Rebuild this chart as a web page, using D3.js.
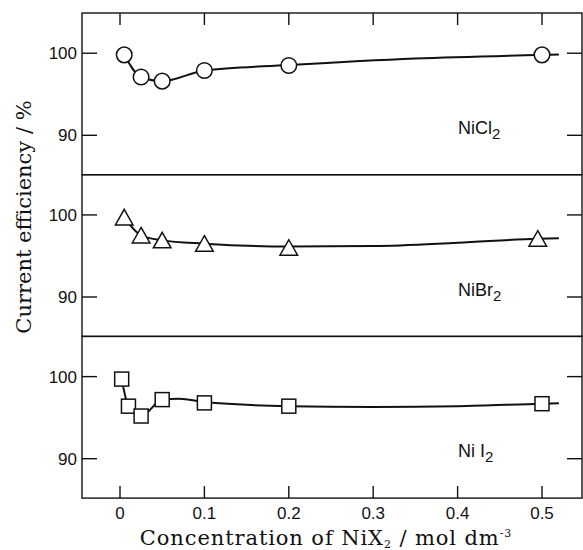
<!DOCTYPE html>
<html>
<head>
<meta charset="utf-8">
<script src="https://cdn.jsdelivr.net/npm/d3@7"></script>
<style>
  body { margin: 0; background: #fff; }
  svg { display: block; }
</style>
</head>
<body>
<div id="chart"></div>
<script>
// concentrations (mol dm-3) and current efficiency (%) per salt
const clX = [0.005, 0.025, 0.05, 0.1, 0.2, 0.5];
const clY = [99.8, 97.1, 96.6, 97.9, 98.5, 99.8];
const brX = [0.005, 0.025, 0.05, 0.1, 0.2, 0.495];
const brY = [99.7, 97.5, 96.9, 96.5, 96.0, 97.1];
const iX = [0.002, 0.01, 0.025, 0.05, 0.1, 0.2, 0.5];
const iY = [99.7, 96.4, 95.2, 97.2, 96.8, 96.4, 96.7];

// hand-drawn trend curves
const clFitX = [0.005, 0.025, 0.05, 0.1, 0.2, 0.35, 0.5, 0.52];
const clFitY = [99.8, 97.1, 96.6, 97.9, 98.55, 99.35, 99.8, 99.85];
const brFitX = [0.005, 0.025, 0.05, 0.1, 0.2, 0.3, 0.4, 0.495, 0.52];
const brFitY = [99.7, 97.5, 96.9, 96.5, 96.15, 96.2, 96.6, 97.1, 97.15];
const iFitX = [0.002, 0.01, 0.025, 0.05, 0.07, 0.1, 0.2, 0.3, 0.4, 0.5, 0.52];
const iFitY = [99.7, 96.4, 95.2, 97.2, 97.3, 96.9, 96.4, 96.3, 96.4, 96.7, 96.75];

const xTicks = [0, 0.1, 0.2, 0.3, 0.4, 0.5];
const yTicks = [90, 100];

const panels = [
    { name: "NiCl", sub: "2", shape: "circle", xs: clX, ys: clY, fx: clFitX, fy: clFitY },
    { name: "NiBr", sub: "2", shape: "triangle", xs: brX, ys: brY, fx: brFitX, fy: brFitY },
    { name: "Ni I", sub: "2", shape: "square", xs: iX, ys: iY, fx: iFitX, fy: iFitY }
];

const W = 583, H = 550;
const plotLeft = 82, plotRight = 582, plotTop = 13, panelH = 161.7;

const svg = d3.select("#chart").append("svg")
    .attr("width", W)
    .attr("height", H);

const x = d3.scaleLinear().domain([0, 0.5]).range([120, 542]);
const ink = "#111";
const tickFont = "'Liberation Sans', Arial, sans-serif";

const line = d3.line()
    .x(d => x(d[0]))
    .curve(d3.curveMonotoneX);

panels.forEach((p, i) => {
    const y0 = plotTop + i * panelH;
    const y = d3.scaleLinear().domain([85.2, 104.9]).range([y0 + panelH, y0]);
    const g = svg.append("g");

    // frame
    g.append("rect")
        .attr("x", plotLeft).attr("y", y0)
        .attr("width", plotRight - plotLeft).attr("height", panelH)
        .attr("fill", "none").attr("stroke", ink).attr("stroke-width", 1.4);

    // y ticks, both sides, inward
    yTicks.forEach(t => {
        g.append("line").attr("x1", plotLeft).attr("x2", plotLeft + 15)
            .attr("y1", y(t)).attr("y2", y(t))
            .attr("stroke", ink).attr("stroke-width", 1.4);
        g.append("line").attr("x1", plotRight - 15).attr("x2", plotRight)
            .attr("y1", y(t)).attr("y2", y(t))
            .attr("stroke", ink).attr("stroke-width", 1.4);
        g.append("text")
            .attr("x", plotLeft - 5).attr("y", y(t))
            .attr("dy", "0.36em")
            .attr("text-anchor", "end")
            .style("font-family", tickFont)
            .style("font-size", "17px")
            .attr("fill", ink)
            .text(t);
    });

    // trend curve
    const fit = p.fx.map((v, k) => [v, p.fy[k]]);
    g.append("path")
        .attr("d", line.y(d => y(d[1]))(fit))
        .attr("fill", "none")
        .attr("stroke", ink)
        .attr("stroke-width", 2);

    // markers
    const pts = p.xs.map((v, k) => [v, p.ys[k]]);
    const mg = g.append("g")
        .attr("fill", "#fff")
        .attr("stroke", ink)
        .attr("stroke-width", 1.5);
    const m = mg.selectAll(".m").data(pts).enter();
    if (p.shape === "circle") {
        m.append("circle")
            .attr("cx", d => x(d[0])).attr("cy", d => y(d[1]))
            .attr("r", 7.8);
    } else if (p.shape === "square") {
        m.append("rect")
            .attr("x", d => x(d[0]) - 7).attr("y", d => y(d[1]) - 7)
            .attr("width", 14).attr("height", 14);
    } else {
        m.append("path")
            .attr("transform", d => `translate(${x(d[0])},${y(d[1])})`)
            .attr("d", "M0,-8L8.8,7.5L-8.8,7.5Z");
    }

    // salt label
    const lab = g.append("text")
        .attr("x", 458).attr("y", y0 + 121)
        .style("font-family", tickFont)
        .style("font-size", "18px")
        .attr("fill", ink);
    lab.append("tspan").text(p.name);
    lab.append("tspan").attr("dy", 5).style("font-size", "15px").text(p.sub);
});

// x ticks: top of first panel (down) and bottom of last (up)
const yBottom = plotTop + 3 * panelH;
xTicks.forEach(t => {
    svg.append("line").attr("x1", x(t)).attr("x2", x(t))
        .attr("y1", plotTop).attr("y2", plotTop + 12)
        .attr("stroke", ink).attr("stroke-width", 1.4);
    svg.append("line").attr("x1", x(t)).attr("x2", x(t))
        .attr("y1", yBottom).attr("y2", yBottom - 12)
        .attr("stroke", ink).attr("stroke-width", 1.4);
    svg.append("text")
        .attr("x", x(t)).attr("y", yBottom + 21)
        .attr("text-anchor", "middle")
        .style("font-family", tickFont)
        .style("font-size", "17px")
        .attr("fill", ink)
        .text(t === 0 ? "0" : d3.format(".1f")(t));
});

// axis titles
const serif = "'DejaVu Serif', 'Liberation Serif', serif";
const xt = svg.append("text")
    .attr("x", 326).attr("y", 545)
    .attr("text-anchor", "middle")
    .style("font-family", serif)
    .style("font-size", "21px")
    .style("letter-spacing", "0.9px")
    .attr("fill", ink);
xt.append("tspan").text("Concentration of NiX");
xt.append("tspan").attr("dy", 3).style("font-size", "11px").text("2");
xt.append("tspan").attr("dy", -3).text(" / mol dm");
xt.append("tspan").attr("dy", -8).style("font-size", "11px").text("-3");

svg.append("text")
    .attr("transform", "translate(31,217) rotate(-90)")
    .attr("text-anchor", "middle")
    .style("font-family", serif)
    .style("font-size", "21px")
    .attr("fill", ink)
    .text("Current efficiency / %");
</script>
</body>
</html>
